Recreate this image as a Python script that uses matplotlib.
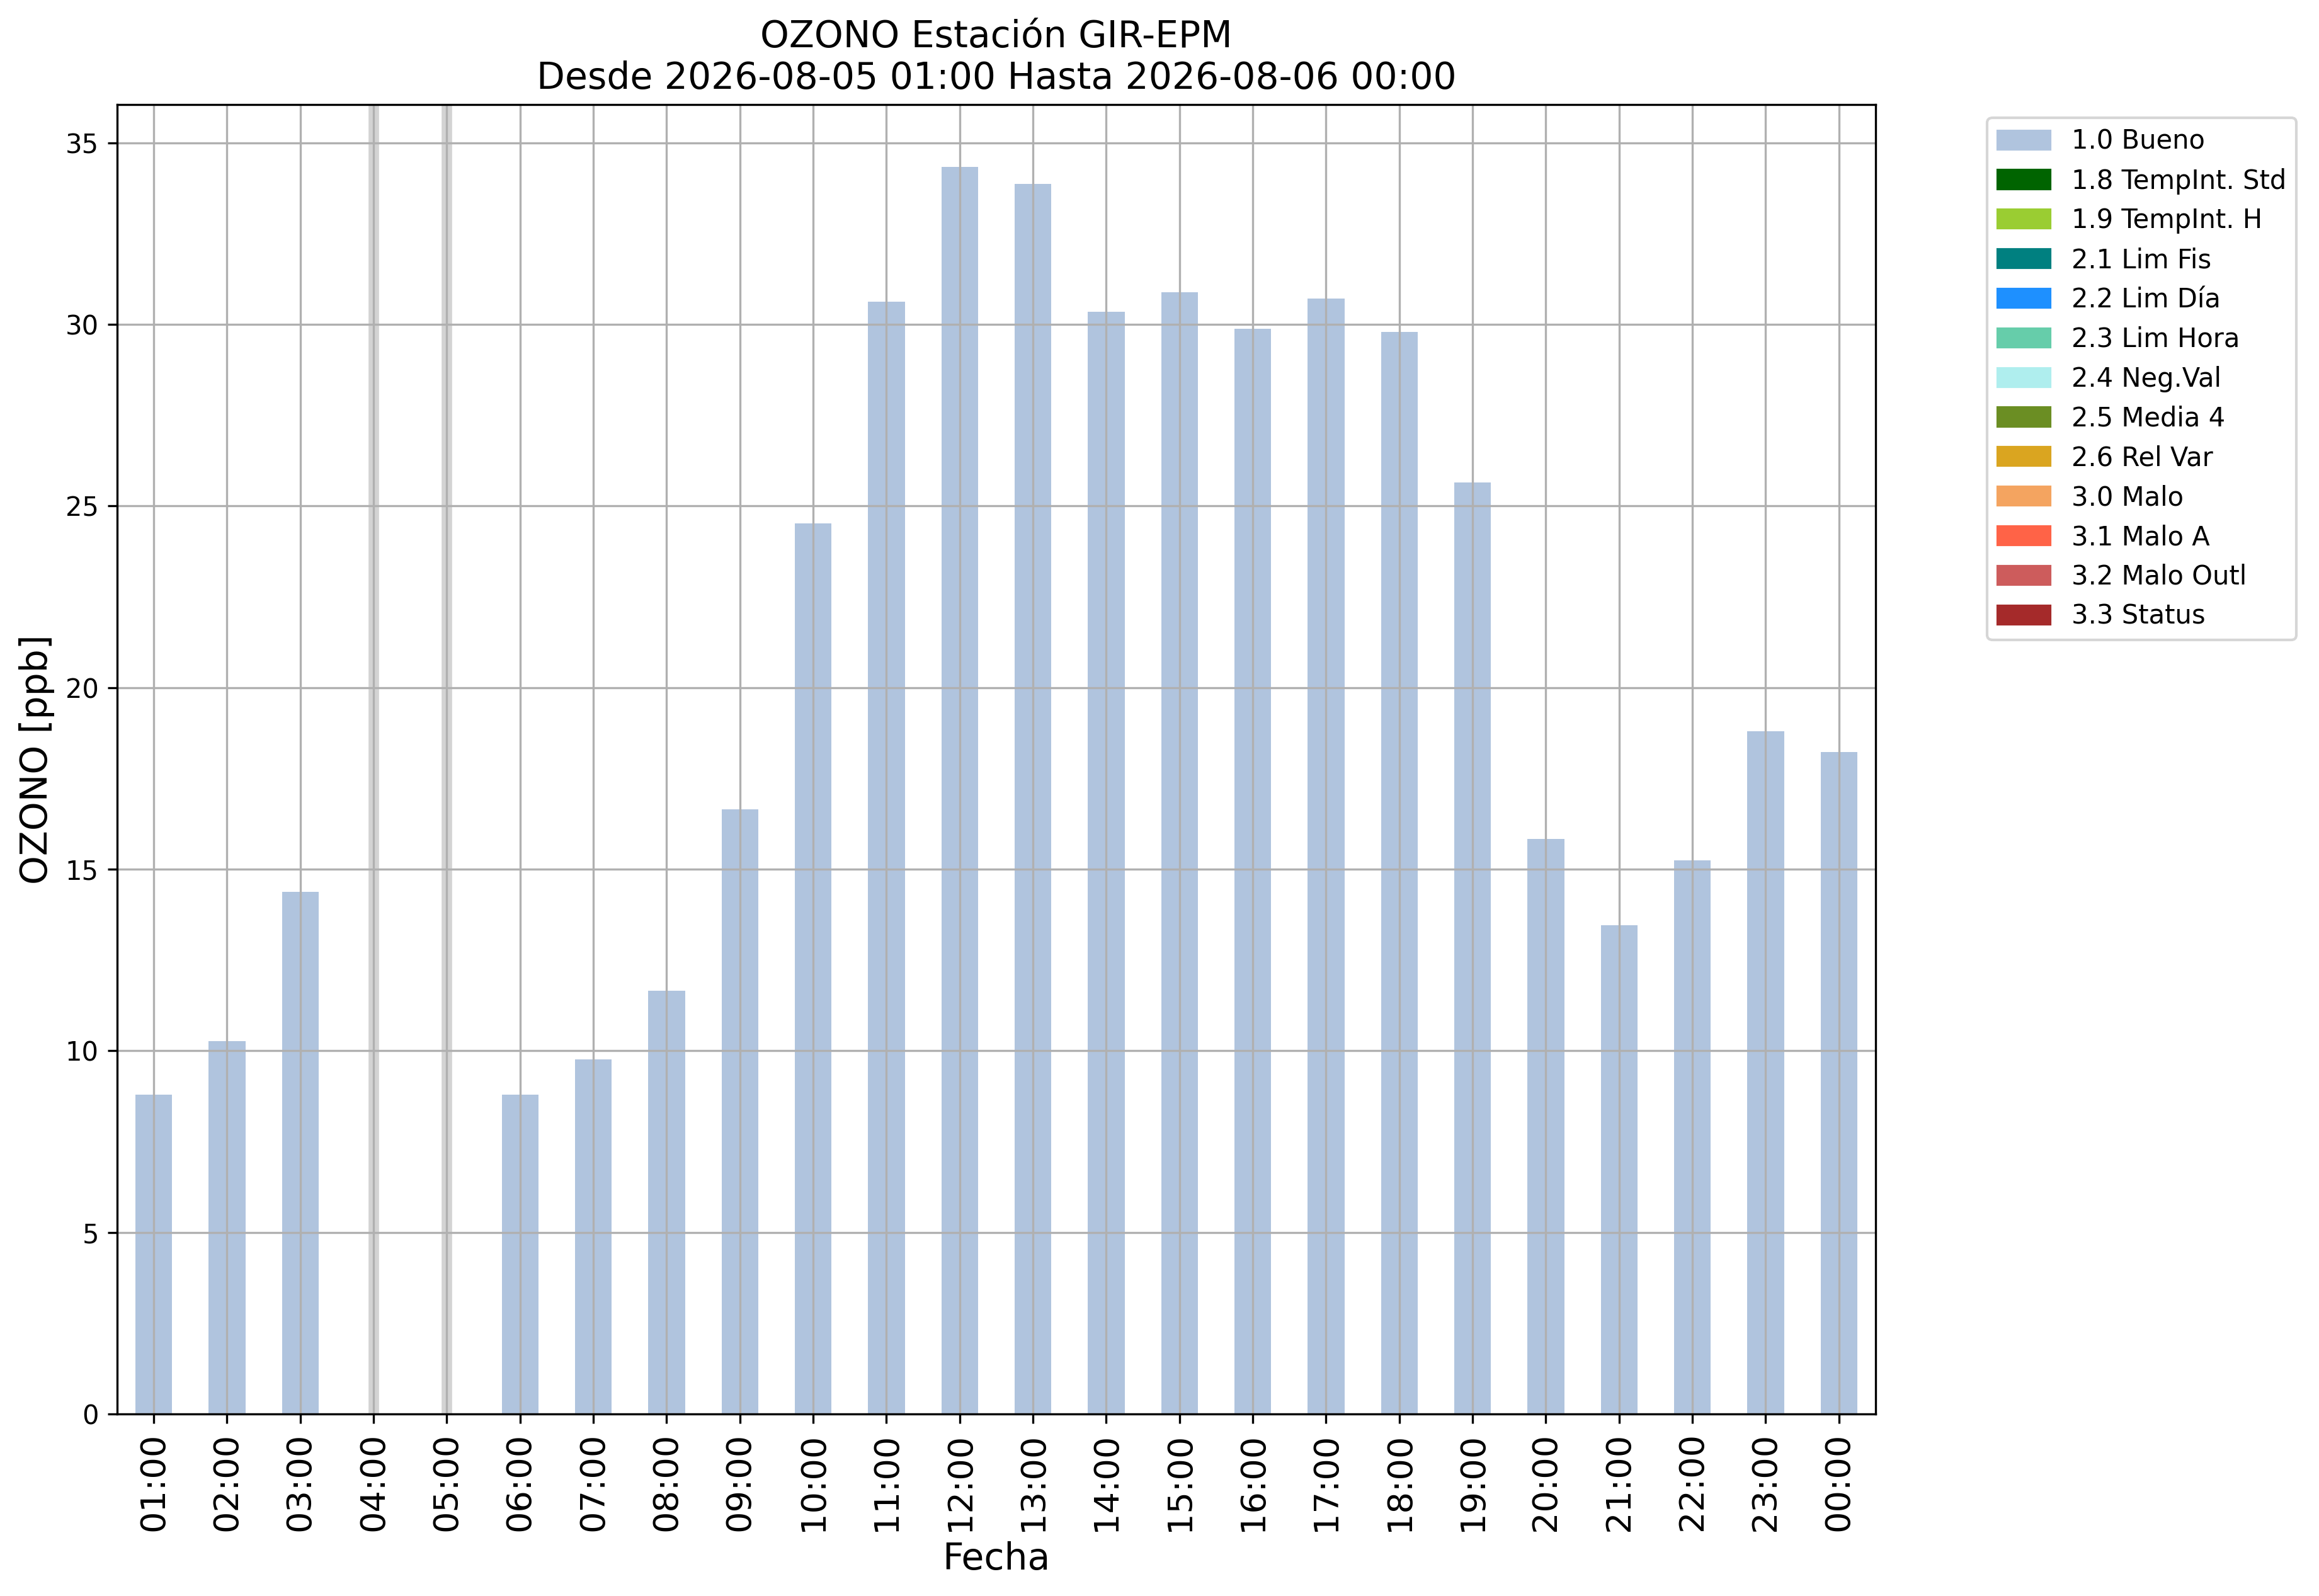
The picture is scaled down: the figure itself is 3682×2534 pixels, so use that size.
import matplotlib
matplotlib.use('Agg')
import matplotlib.pyplot as plt
import matplotlib.patches as mpatches
import numpy as np

# hourly ozone values, NaN = missing
horas = ['01:00', '02:00', '03:00', '04:00', '05:00', '06:00', '07:00', '08:00',
         '09:00', '10:00', '11:00', '12:00', '13:00', '14:00', '15:00', '16:00',
         '17:00', '18:00', '19:00', '20:00', '21:00', '22:00', '23:00', '00:00']
ozono = [8.79, 10.26, 14.37, np.nan, np.nan, 8.80, 9.77, 11.66,
         16.65, 24.52, 30.62, 34.33, 33.87, 30.34, 30.89, 29.87,
         30.71, 29.79, 25.65, 15.83, 13.46, 15.24, 18.79, 18.23]

flag_labels = ['1.0 Bueno', '1.8 TempInt. Std', '1.9 TempInt. H', '2.1 Lim Fis',
               '2.2 Lim Día', '2.3 Lim Hora', '2.4 Neg.Val', '2.5 Media 4',
               '2.6 Rel Var', '3.0 Malo', '3.1 Malo A', '3.2 Malo Outl', '3.3 Status']
flag_colors = ['lightsteelblue', 'darkgreen', 'yellowgreen', 'teal',
               'dodgerblue', 'mediumaquamarine', 'paleturquoise', 'olivedrab',
               'goldenrod', 'sandybrown', 'tomato', 'indianred', 'brown']

fig = plt.figure(figsize=(3682 / 300, 2534 / 300), dpi=300)
ax = fig.add_axes([0.0505, 0.1140, 0.7583, 0.8204])

x = np.arange(len(horas))
vals = np.array(ozono)
ax.bar(x, np.nan_to_num(vals), width=0.5, color='lightsteelblue')

# missing hours
for i in x[np.isnan(vals)]:
    ax.axvline(i, color='lightgray', linewidth=4, zorder=1)

ax.set_xlim(-0.5, len(horas) - 0.5)
ax.set_ylim(0, np.nanmax(vals) * 1.05)
ax.set_xticks(x)
ax.set_xticklabels(horas, rotation=90, fontsize=13)
ax.grid(True)

ax.set_title('OZONO Estación GIR-EPM\nDesde 2026-08-05 01:00 Hasta 2026-08-06 00:00', fontsize=14)
ax.set_xlabel('Fecha', fontsize=14)
ax.set_ylabel('OZONO [ppb]', fontsize=14)

handles = [mpatches.Patch(color=c, label=l) for c, l in zip(flag_colors, flag_labels)]
ax.legend(handles=handles, loc='upper left', bbox_to_anchor=(1.056, 1))

fig.savefig('out.png', dpi=300)
